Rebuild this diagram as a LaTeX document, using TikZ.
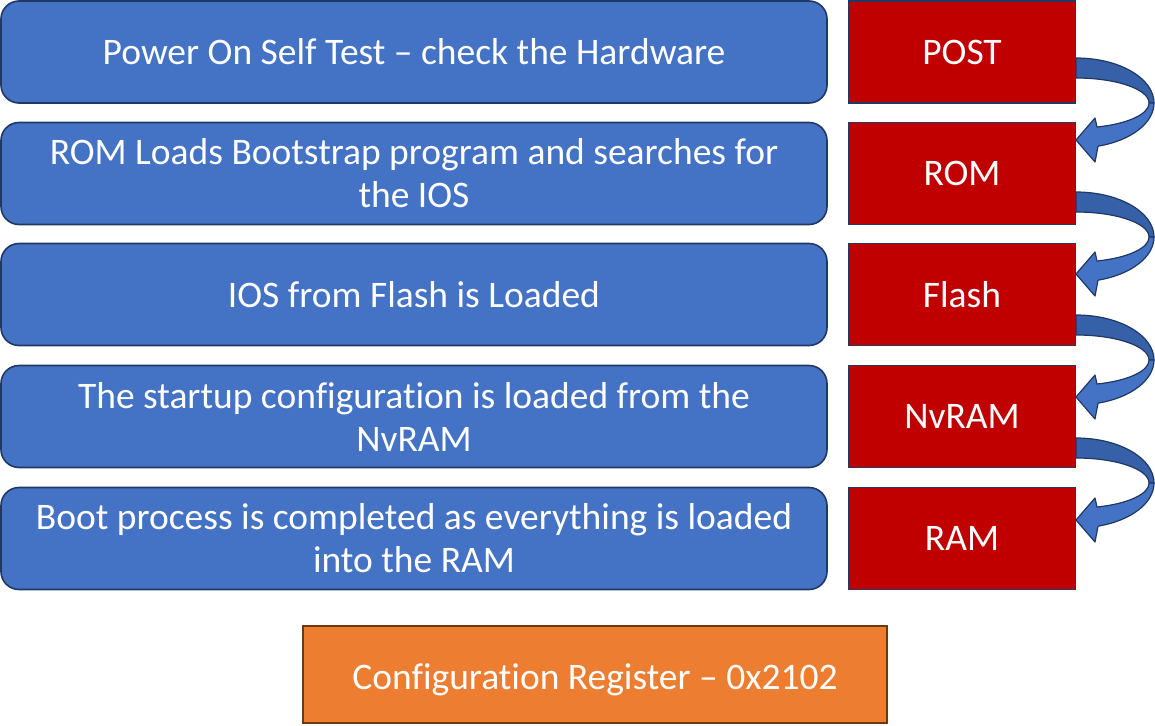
\documentclass[tikz,border=0pt]{standalone}
\usepackage{fontspec}
\setmainfont{Carlito}[Ligatures={NoCommon}]
\definecolor{boxblue}{HTML}{4472C4}
\definecolor{boxred}{HTML}{C00000}
\definecolor{boxorange}{HTML}{ED7D31}
\definecolor{navyline}{HTML}{203864}
\definecolor{brownline}{HTML}{6B3A10}
\definecolor{arrowback}{HTML}{3660A8}
\tikzset{
  bluebox/.style={draw=navyline, line width=1.6pt, fill=boxblue, rounded corners=18pt,
    minimum width=826pt, minimum height=102pt, text=white, align=center,
    font=\fontsize{37.5}{43}\selectfont, inner sep=0pt},
  redbox/.style={draw=navyline, line width=1.6pt, fill=boxred,
    minimum width=227pt, minimum height=102pt, text=white, align=center,
    font=\fontsize{37.5}{43}\selectfont, inner sep=0pt},
  orangebox/.style={draw=brownline, line width=1.6pt, fill=boxorange,
    minimum width=584pt, minimum height=97pt, text=white, align=center,
    font=\fontsize{37.5}{43}\selectfont, inner sep=0pt, text height=38pt, text depth=9pt},
  arrowpart/.style={draw=navyline, line width=1.2pt, line join=round},
}
\newcommand\bentarrow[1]{%
  \begin{scope}[shift={(0,#1)}]
    \filldraw[arrowpart, fill=arrowback] (1076,0)
      arc[start angle=-90, end angle=0, x radius=78, y radius=45]
      -- (1149,45)
      arc[start angle=0, end angle=-90, x radius=73, y radius=25] -- cycle;
    \filldraw[arrowpart, fill=boxblue] (1154,45)
      arc[start angle=0, end angle=73.6, x radius=78, y radius=45]
      -- (1095,104) -- (1076,82) -- (1095,60) -- (1097,69)
      arc[start angle=73.3, end angle=0, x radius=73, y radius=25] -- cycle;
  \end{scope}}
\begin{document}
\begin{tikzpicture}[x=1pt,y=-1pt]
\useasboundingbox (0,0) rectangle (1155,725);
\node[bluebox] (b1) at (414,52) {Power On Self Test – check the Hardware};
\node[bluebox] (b2) at (414,173.5) {ROM Loads Bootstrap program and searches for\\the IOS};
\node[bluebox] (b3) at (414,294.5) {IOS from Flash is Loaded};
\node[bluebox] (b4) at (414,416.5) {The startup configuration is loaded from the\\NvRAM};
\node[bluebox] (b5) at (414,538.5) {Boot process is completed as everything is loaded\\into the RAM};
\node[redbox] (r1) at (962,52) {POST};
\node[redbox] (r2) at (962,173.5) {ROM};
\node[redbox] (r3) at (962,294.5) {Flash};
\node[redbox] (r4) at (962,416.5) {NvRAM};
\node[redbox] (r5) at (962,538.5) {RAM};
\node[orangebox] (cr) at (595,674.5) {Configuration Register – 0x2102};
\bentarrow{58}
\bentarrow{192}
\bentarrow{315}
\bentarrow{438}
\end{tikzpicture}
\end{document}
